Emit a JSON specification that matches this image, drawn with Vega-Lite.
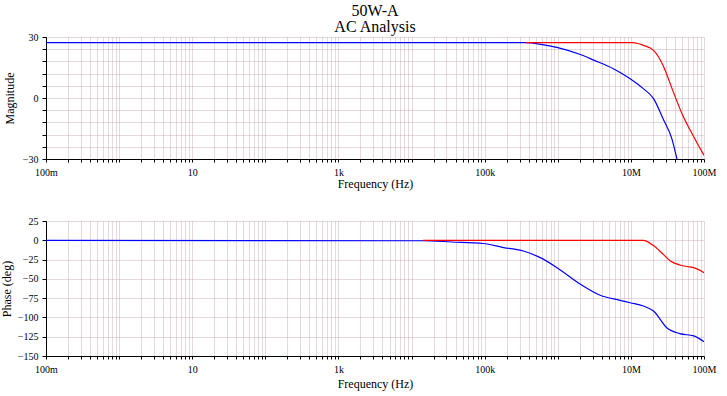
{
  "$schema": "https://vega.github.io/schema/vega-lite/v6.json",
  "padding": {"left": 0, "top": 3, "right": 5, "bottom": 6},
  "background": "white",
  "spacing": 27,
  "config": {
    "font": "Liberation Serif",
    "view": {"stroke": null},
    "axis": {
      "labelFont": "Liberation Serif",
      "labelFontSize": 10,
      "labelColor": "#000000",
      "titleFont": "Liberation Serif",
      "titleFontSize": 12,
      "titleFontWeight": "normal",
      "titleColor": "#000000",
      "domainColor": "#000000",
      "tickColor": "#000000",
      "tickSize": 4,
      "labelPadding": 4,
      "gridColor": "#c39db2",
      "gridOpacity": 0.8,
      "gridWidth": 1,
      "gridDash": [1, 1],
      "labelFlush": false,
      "labelOverlap": false
    }
  },
  "datasets": {
    "mag": [
      {"f": 0.1, "v": 27.2, "s": "blue"},
      {"f": 100000, "v": 27.2, "s": "blue"},
      {"f": 363078, "v": 27.2, "s": "blue"},
      {"f": 588844, "v": 26.4, "s": "blue"},
      {"f": 1000000, "v": 24.8, "s": "blue"},
      {"f": 1995262, "v": 21.5, "s": "blue"},
      {"f": 3162278, "v": 18.5, "s": "blue"},
      {"f": 5754399, "v": 14.4, "s": "blue"},
      {"f": 9772372, "v": 9.5, "s": "blue"},
      {"f": 14791084, "v": 4.6, "s": "blue"},
      {"f": 20417379, "v": -0.3, "s": "blue"},
      {"f": 27542287, "v": -10.2, "s": "blue"},
      {"f": 36307805, "v": -20, "s": "blue"},
      {"f": 42657952, "v": -30, "s": "blue"},
      {"f": 363078, "v": 27.2, "s": "red"},
      {"f": 10715193, "v": 27.2, "s": "red"},
      {"f": 14791084, "v": 25.9, "s": "red"},
      {"f": 20417379, "v": 23.4, "s": "red"},
      {"f": 27542287, "v": 16, "s": "red"},
      {"f": 38018940, "v": 3, "s": "red"},
      {"f": 51286138, "v": -8.6, "s": "red"},
      {"f": 70794578, "v": -18.4, "s": "red"},
      {"f": 100000000, "v": -28.2, "s": "red"}
    ],
    "phase": [
      {"f": 0.1, "v": 0, "s": "blue"},
      {"f": 14454, "v": -0.6, "s": "blue"},
      {"f": 35481, "v": -2.2, "s": "blue"},
      {"f": 95499, "v": -4.2, "s": "blue"},
      {"f": 181970, "v": -9.4, "s": "blue"},
      {"f": 338844, "v": -13.9, "s": "blue"},
      {"f": 575440, "v": -22.5, "s": "blue"},
      {"f": 977237, "v": -35.5, "s": "blue"},
      {"f": 2041738, "v": -57, "s": "blue"},
      {"f": 3801894, "v": -71.3, "s": "blue"},
      {"f": 7079458, "v": -77.8, "s": "blue"},
      {"f": 9772372, "v": -81, "s": "blue"},
      {"f": 14791084, "v": -85.2, "s": "blue"},
      {"f": 20417379, "v": -91.7, "s": "blue"},
      {"f": 30902954, "v": -113.3, "s": "blue"},
      {"f": 46773514, "v": -121, "s": "blue"},
      {"f": 72443596, "v": -124, "s": "blue"},
      {"f": 100000000, "v": -131.5, "s": "blue"},
      {"f": 14454, "v": 0, "s": "red"},
      {"f": 14791084, "v": 0, "s": "red"},
      {"f": 20417379, "v": -6.9, "s": "red"},
      {"f": 27542287, "v": -18, "s": "red"},
      {"f": 34673685, "v": -26.8, "s": "red"},
      {"f": 46773514, "v": -32, "s": "red"},
      {"f": 63095734, "v": -34.5, "s": "red"},
      {"f": 72443596, "v": -35.5, "s": "red"},
      {"f": 100000000, "v": -42, "s": "red"}
    ]
  },
  "vconcat": [
    {
      "title": {"text": ["50W-A", "AC Analysis"], "font": "Liberation Serif", "fontSize": 16, "fontWeight": "normal", "color": "#000000", "anchor": "middle", "frame": "group", "lineHeight": 16, "offset": -3},
      "width": 658,
      "height": 122,
      "data": {"name": "mag"},
      "mark": {"type": "line", "strokeWidth": 1.2, "clip": true, "interpolate": "monotone"},
      "encoding": {
        "x": {
          "field": "f", "type": "quantitative",
          "scale": {"type": "log", "domain": [0.1, 100000000], "nice": false},
          "axis": {
            "title": "Frequency (Hz)",
            "titlePadding": 1,
            "labelPadding": 5,
            "labelFont": "Liberation Serif",
            "titleFont": "Liberation Serif",
            "values": [0.1,0.2,0.3,0.4,0.5,0.6,0.7,0.8,0.9,1,2,3,4,5,6,7,8,9,10,20,30,40,50,60,70,80,90,100,200,300,400,500,600,700,800,900,1000,2000,3000,4000,5000,6000,7000,8000,9000,10000,20000,30000,40000,50000,60000,70000,80000,90000,100000,200000,300000,400000,500000,600000,700000,800000,900000,1000000,2000000,3000000,4000000,5000000,6000000,7000000,8000000,9000000,10000000,20000000,30000000,40000000,50000000,60000000,70000000,80000000,90000000,100000000],
            "labelExpr": "datum.value == 0.1 ? '100m' : datum.value == 10 ? '10' : datum.value == 1000 ? '1k' : datum.value == 100000 ? '100k' : datum.value == 10000000 ? '10M' : datum.value == 100000000 ? '100M' : ''",
            "tickSize": 3
          }
        },
        "y": {
          "field": "v", "type": "quantitative",
          "scale": {"domain": [-30, 30], "nice": false},
          "axis": {
            "title": "Magnitude",
            "titlePadding": 6,
            "labelFont": "Liberation Serif",
            "titleFont": "Liberation Serif",
            "values": [-30,-24,-18,-12,-6,0,6,12,18,24,30],
            "labelExpr": "datum.value % 30 == 0 ? datum.label : ''"
          }
        },
        "color": {
          "field": "s", "type": "nominal",
          "scale": {"domain": ["blue", "red"], "range": ["#0000ff", "#ff0000"]},
          "legend": null
        }
      }
    },
    {
      "width": 658,
      "height": 135,
      "data": {"name": "phase"},
      "mark": {"type": "line", "strokeWidth": 1.2, "clip": true, "interpolate": "monotone"},
      "encoding": {
        "x": {
          "field": "f", "type": "quantitative",
          "scale": {"type": "log", "domain": [0.1, 100000000], "nice": false},
          "axis": {
            "title": "Frequency (Hz)",
            "titlePadding": 4,
            "labelPadding": 5,
            "labelFont": "Liberation Serif",
            "titleFont": "Liberation Serif",
            "values": [0.1,0.2,0.3,0.4,0.5,0.6,0.7,0.8,0.9,1,2,3,4,5,6,7,8,9,10,20,30,40,50,60,70,80,90,100,200,300,400,500,600,700,800,900,1000,2000,3000,4000,5000,6000,7000,8000,9000,10000,20000,30000,40000,50000,60000,70000,80000,90000,100000,200000,300000,400000,500000,600000,700000,800000,900000,1000000,2000000,3000000,4000000,5000000,6000000,7000000,8000000,9000000,10000000,20000000,30000000,40000000,50000000,60000000,70000000,80000000,90000000,100000000],
            "labelExpr": "datum.value == 0.1 ? '100m' : datum.value == 10 ? '10' : datum.value == 1000 ? '1k' : datum.value == 100000 ? '100k' : datum.value == 10000000 ? '10M' : datum.value == 100000000 ? '100M' : ''",
            "tickSize": 3
          }
        },
        "y": {
          "field": "v", "type": "quantitative",
          "scale": {"domain": [-150, 25], "nice": false},
          "axis": {
            "title": "Phase (deg)",
            "titlePadding": 4,
            "labelFont": "Liberation Serif",
            "titleFont": "Liberation Serif",
            "values": [-150,-125,-100,-75,-50,-25,0,25]
          }
        },
        "color": {
          "field": "s", "type": "nominal",
          "scale": {"domain": ["blue", "red"], "range": ["#0000ff", "#ff0000"]},
          "legend": null
        }
      }
    }
  ]
}
